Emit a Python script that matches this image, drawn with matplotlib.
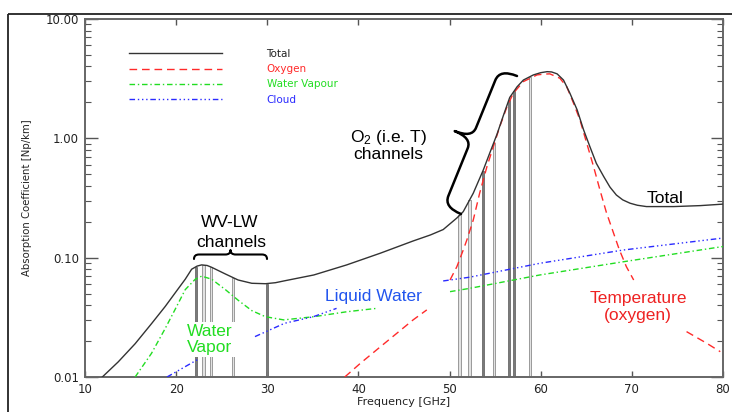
import numpy as np
import matplotlib
matplotlib.use("Agg")
import matplotlib.pyplot as plt
from matplotlib.path import Path
from matplotlib.patches import PathPatch, Rectangle
from matplotlib.ticker import LogLocator, NullFormatter

plt.rcParams['mathtext.default'] = 'regular'

# values (GHz, Np/km), nan = gap in the drawn curve
total_ghz = [11.9, 13.65, 15.5, 17.3, 18.8, 20.0, 21.0, 21.7, 22.3, 22.8, 23.4, 23.9,
             25.4, 26.8, 28.3, 29.8, 30.9, 31.9, 35.1, 38.7, 42.4, 46.0, 47.9, 49.3,
             50.8, 51.5, 52.6, 53.7, 54.4, 55.2, 55.9, 56.6, 57.4, 58.1, 59.2, 60.0,
             60.7, 61.2, 61.8, 62.5, 63.2, 64.0, 64.7, 65.4, 66.1, 66.9, 67.6, 68.3,
             69.0, 69.8, 70.6, 71.6, 74.6, 77.5, 80.0]
total_abs = [0.0100, 0.0134, 0.019, 0.028, 0.039, 0.052, 0.066, 0.080, 0.085, 0.087,
             0.086, 0.083, 0.073, 0.065, 0.061, 0.0605, 0.0617, 0.064, 0.0716, 0.0869,
             0.109, 0.138, 0.155, 0.172, 0.215, 0.243, 0.347, 0.543, 0.75, 1.08, 1.55,
             2.2, 2.7, 3.08, 3.40, 3.55, 3.62, 3.60, 3.47, 3.08, 2.39, 1.73, 1.18, 0.85,
             0.618, 0.48, 0.39, 0.335, 0.305, 0.286, 0.275, 0.268, 0.268, 0.273, 0.281]

oxygen_ghz = [38.5, 40.2, 42.4, 44.2, 46.0, 47.5, np.nan, 50.05, 50.8, 51.5, 51.9, 52.6,
              53.3, 54.1, 54.8, 55.5, 56.3, 57.0, 58.1, 59.6, 60.3, 61.0, 62.1, 62.85,
              63.6, 64.3, 65.05, 65.8, 66.5, 67.2, 68.0, 68.6, 69.4, 70.2, np.nan,
              76.0, 78.2, 79.7]
oxygen_abs = [0.0100, 0.0130, 0.0179, 0.0232, 0.0301, 0.0365, np.nan, 0.065, 0.084, 0.116,
              0.141, 0.207, 0.347, 0.579, 0.85, 1.25, 1.84, 2.39, 2.99, 3.40, 3.45, 3.47,
              3.19, 2.71, 1.97, 1.43, 0.91, 0.579, 0.369, 0.24, 0.16, 0.118, 0.084, 0.065,
              np.nan, 0.0240, 0.0192, 0.0163]

vapour_ghz = [15.5, 17.3, 18.8, 19.9, 21.0, 22.1, 22.8, 23.9, 25.4, 26.8, 28.3, 29.8,
              31.8, 35.1, 38.7, 42.0, np.nan, 50.05, 52.2, 59.9, 69.1, 80.0]
vapour_abs = [0.0100, 0.0158, 0.0255, 0.037, 0.054, 0.066, 0.070, 0.066, 0.054, 0.044,
              0.036, 0.032, 0.0301, 0.0320, 0.0352, 0.0376, np.nan, 0.0519, 0.0553,
              0.0716, 0.0925, 0.124]

cloud_ghz = [19.0, 22.5, np.nan, 28.65, 31.9, 35.05, 37.6, np.nan, 49.3, 52.2, 59.9, 69.1, 80.0]
cloud_abs = [0.0100, 0.0142, np.nan, 0.0218, 0.0282, 0.0320, 0.0376, np.nan, 0.0638,
             0.0686, 0.0897, 0.116, 0.146]

# radiometer channels, True = dark bar
chan_ghz = [22.2, 23.0, 23.8, 26.25, 30.0, 51.1, 52.2, 53.65, 54.85, 56.5, 57.1, 58.8]
chan_dark = [True, False, False, False, True, False, False, True, False, True, True, False]

red = '#ff2a2a'
green = '#22dd22'
blue = '#2a2aff'
font = 'Liberation Sans'

fig = plt.figure(figsize=(7.32, 4.12), dpi=100)
ax = fig.add_axes([85/732, 1-377/412, 638/732, 358/412])
ax.set_yscale('log')

# channel bars go up to the total curve
for f, dark in zip(chan_ghz, chan_dark):
    top = 10**np.interp(f, total_ghz, np.log10(total_abs))
    if dark:
        ax.bar(f, top-0.01, bottom=0.01, width=0.18, color='#7a7a7a', edgecolor='#5a5a5a',
               linewidth=0.5, zorder=2)
    else:
        ax.bar(f, top-0.01, bottom=0.01, width=0.26, color='#e2e2e2', edgecolor='#9a9a9a',
               linewidth=0.7, zorder=2)

l_ox, = ax.plot(oxygen_ghz, oxygen_abs, color=red, lw=1.0, ls=(0, (5.5, 3.5)), zorder=3)
l_wv, = ax.plot(vapour_ghz, vapour_abs, color=green, lw=1.0, ls=(0, (4, 2, 1, 2)), zorder=3)
l_cl, = ax.plot(cloud_ghz, cloud_abs, color=blue, lw=1.0, ls=(0, (4, 2, 1, 2, 1, 2, 1, 2)), zorder=3)
l_tot, = ax.plot(total_ghz, total_abs, color='#333333', lw=1.0, zorder=4)

ax.set_xlim(10, 80)
ax.set_ylim(0.01, 10)
ax.set_xticks(range(10, 81, 10))
ax.set_yticks([0.01, 0.1, 1, 10])
ax.set_yticklabels(['0.01', '0.10', '1.00', '10.00'])
ax.yaxis.set_minor_locator(LogLocator(subs=np.arange(2, 10)))
ax.yaxis.set_minor_formatter(NullFormatter())
ax.tick_params(axis='x', direction='in', length=4.5, width=1, top=True, pad=4,
               labelsize=8.5, color='#555555', labelcolor='#222222')
ax.tick_params(axis='y', which='major', direction='in', length=9, width=1, right=True,
               pad=4.3, labelsize=8.5, color='#555555', labelcolor='#222222')
ax.tick_params(axis='y', which='minor', direction='in', length=4.3, width=0.8, right=True,
               color='#555555')
for s in ax.spines.values():
    s.set_color('#666666')
    s.set_linewidth(1.4)

ax.set_xlabel('Frequency [GHz]', fontsize=8, color='#222222')
ax.xaxis.set_label_coords(0.5, -0.057)
ax.set_ylabel('Absorption Coefficient [Np/km]', fontsize=7.3, color='#222222')
ax.yaxis.set_label_coords(-0.083, 0.5)

ax.legend([l_tot, l_ox, l_wv, l_cl], ['Total', 'Oxygen', 'Water Vapour', 'Cloud'],
          loc='upper left', bbox_to_anchor=(0.069, 0.916), frameon=False,
          prop={'family': 'DejaVu Sans', 'size': 7.5}, handlelength=8.9, handletextpad=4.3,
          labelspacing=0.5, borderpad=0, borderaxespad=0,
          labelcolor=['#222222', red, green, blue])

# annotations
ax.text(73.6, 0.286, 'Total', fontsize=12.5, family=font, ha='center', va='baseline')
ax.text(70.7, 0.0420, 'Temperature', fontsize=12.5, family=font, color='#ee2222',
        ha='center', va='baseline')
ax.text(70.7, 0.0301, '(oxygen)', fontsize=12.5, family=font, color='#ee2222',
        ha='center', va='baseline')
ax.text(41.7, 0.0433, 'Liquid Water', fontsize=12.5, family=font, color='#2255ee',
        ha='center', va='baseline')
ax.text(23.7, 0.0205, 'Water\nVapor', fontsize=12.5, family=font, color=green,
        ha='center', va='center', linespacing=1.05, zorder=5,
        bbox=dict(fc='white', ec='none', pad=1.5))
ax.text(25.9, 0.182, 'WV-LW', fontsize=12.5, family=font, ha='center', va='baseline')
ax.text(26.0, 0.124, 'channels', fontsize=12.5, family=font, ha='center', va='baseline')
ax.text(43.3, 0.938, 'O$_2$ (i.e. T)', fontsize=12.5, family=font, ha='center', va='baseline')
ax.text(43.3, 0.668, 'channels', fontsize=12.5, family=font, ha='center', va='baseline')

# overlay in pixel units for the braces and the outer frame
ov = fig.add_axes([0, 0, 1, 1])
ov.set_xlim(0, 732)
ov.set_ylim(412, 0)
ov.set_facecolor('none')
ov.axis('off')


def brace(p0, p1, h, qe, qt, lw):
    p0 = np.array(p0, float)
    d = np.array(p1, float) - p0
    L = np.hypot(d[0], d[1])
    u = d / L
    n = np.array([-u[1], u[0]])

    def P(a, b):
        return p0 + a*u + b*n
    verts = [P(0, 0), P(0, h/2), P(qe, h/2), P(L/2-qt, h/2), P(L/2, h/2), P(L/2, h),
             P(L/2, h/2), P(L/2+qt, h/2), P(L-qe, h/2), P(L, h/2), P(L, 0)]
    codes = [Path.MOVETO, Path.CURVE3, Path.CURVE3, Path.LINETO, Path.CURVE3, Path.CURVE3,
             Path.CURVE3, Path.CURVE3, Path.LINETO, Path.CURVE3, Path.CURVE3]
    ov.add_patch(PathPatch(Path(verts, codes), fill=False, lw=lw, ec='black',
                           capstyle='round', joinstyle='round'))


brace((194, 259), (267, 259), -9, 5, 5, 1.5)
brace((461, 214), (517, 76), -37, 12, 11, 1.8)

ov.add_patch(Rectangle((8, 14), 740, 420, fill=False, lw=1.3, ec='#222222'))

fig.savefig('out.png', dpi=100)
